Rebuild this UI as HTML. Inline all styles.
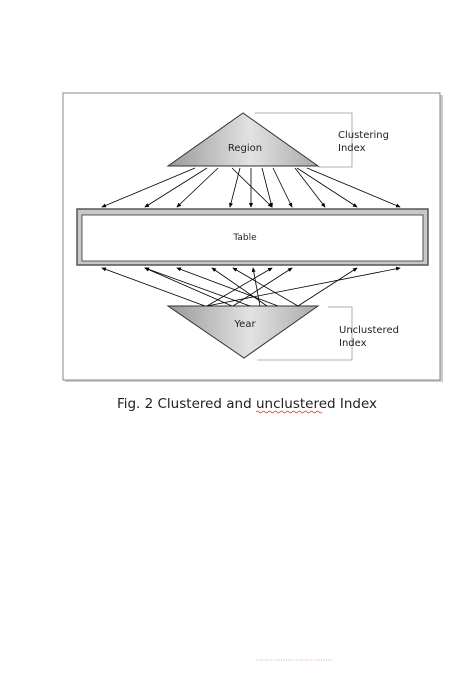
<!DOCTYPE html>
<html><head><meta charset="utf-8"><style>
body{margin:0;background:#fff;width:449px;height:670px;overflow:hidden;font-family:"DejaVu Sans","Liberation Sans",sans-serif}
</style></head><body>
<svg width="449" height="670" viewBox="0 0 449 670" xmlns="http://www.w3.org/2000/svg">
<defs>
<linearGradient id="g1" x1="0" x2="1" y1="0" y2="0"><stop offset="0" stop-color="#999"/><stop offset="0.55" stop-color="#e2e2e2"/><stop offset="1" stop-color="#aaa"/></linearGradient>
<marker id="ah" markerWidth="6" markerHeight="6" refX="5" refY="3" orient="auto"><path d="M0,0.5 L6,3 L0,5.5 z" fill="#000"/></marker>
</defs>
<rect x="65" y="95" width="378" height="287" fill="#ccc"/>
<rect x="63" y="93" width="377" height="287" fill="#fff" stroke="#888" stroke-width="1"/>
<polyline points="255,113 352,113 352,167 318,167" fill="none" stroke="#999" stroke-width="0.8"/>
<polygon points="243,113 168,166 318,166" fill="url(#g1)" stroke="#333" stroke-width="1"/>
<text x="245" y="151" font-size="10" text-anchor="middle" fill="#222">Region</text>
<text x="338" y="138" font-size="10" fill="#222">Clustering</text>
<text x="338" y="151" font-size="10" fill="#222">Index</text>
<rect x="77" y="209" width="351" height="56" fill="#c8c8c8" stroke="#555" stroke-width="1.5"/>
<rect x="82" y="215" width="341" height="46" fill="#fff" stroke="#555" stroke-width="1"/>
<text x="245" y="240" font-size="9" text-anchor="middle" fill="#222">Table</text>
<polyline points="328,307 352,307 352,360 257,360" fill="none" stroke="#999" stroke-width="0.8"/>
<polygon points="168,306 318,306 244,358" fill="url(#g1)" stroke="#333" stroke-width="1"/>
<text x="245" y="327" font-size="10" text-anchor="middle" fill="#222">Year</text>
<text x="339" y="333" font-size="10" fill="#222">Unclustered</text>
<text x="339" y="346" font-size="10" fill="#222">Index</text>
<g id="arrows"></g>
<text x="247" y="408" font-size="13.5" text-anchor="middle" fill="#222">Fig. 2 Clustered and unclustered Index</text>
<path d="M256,412 q1.5,-2 3,0 t3,0 t3,0 t3,0 t3,0 t3,0 t3,0 t3,0 t3,0 t3,0 t3,0 t3,0 t3,0 t3,0 t3,0 t3,0 t3,0 t3,0 t3,0 t3,0 t3,0 t3,0" fill="none" stroke="#e33" stroke-width="0.8"/>
<line x1="256" y1="660" x2="333" y2="660" stroke="#d88" stroke-width="0.8" stroke-dasharray="1,1.5"/>
</svg>
<script>
const topStarts=[195,207,218,240,251,232,262,273,295,297,307];
const topEnds=[102,145,177,230,251,272,272,292,325,357,400];
const botStarts=[205,232,250,278,267,298,260,207,233,298,207];
const botEnds=[102,145,145,177,212,233,253,272,292,357,400];
const g=document.getElementById('arrows');
function arrow(x1,y1,x2,y2,name){
  const l=document.createElementNS('http://www.w3.org/2000/svg','line');
  l.setAttribute('x1',x1);l.setAttribute('y1',y1);l.setAttribute('x2',x2);l.setAttribute('y2',y2);
  l.setAttribute('stroke','#000');l.setAttribute('stroke-width','0.8');l.setAttribute('marker-end','url(#ah)');
  
  
  g.appendChild(l);
}
topStarts.forEach((s,i)=>arrow(s,168,topEnds[i],207,'clustered-pointer-arrow'));
botStarts.forEach((s,i)=>arrow(s,306,botEnds[i],268,'unclustered-pointer-arrow'));
</script>
</body></html>
